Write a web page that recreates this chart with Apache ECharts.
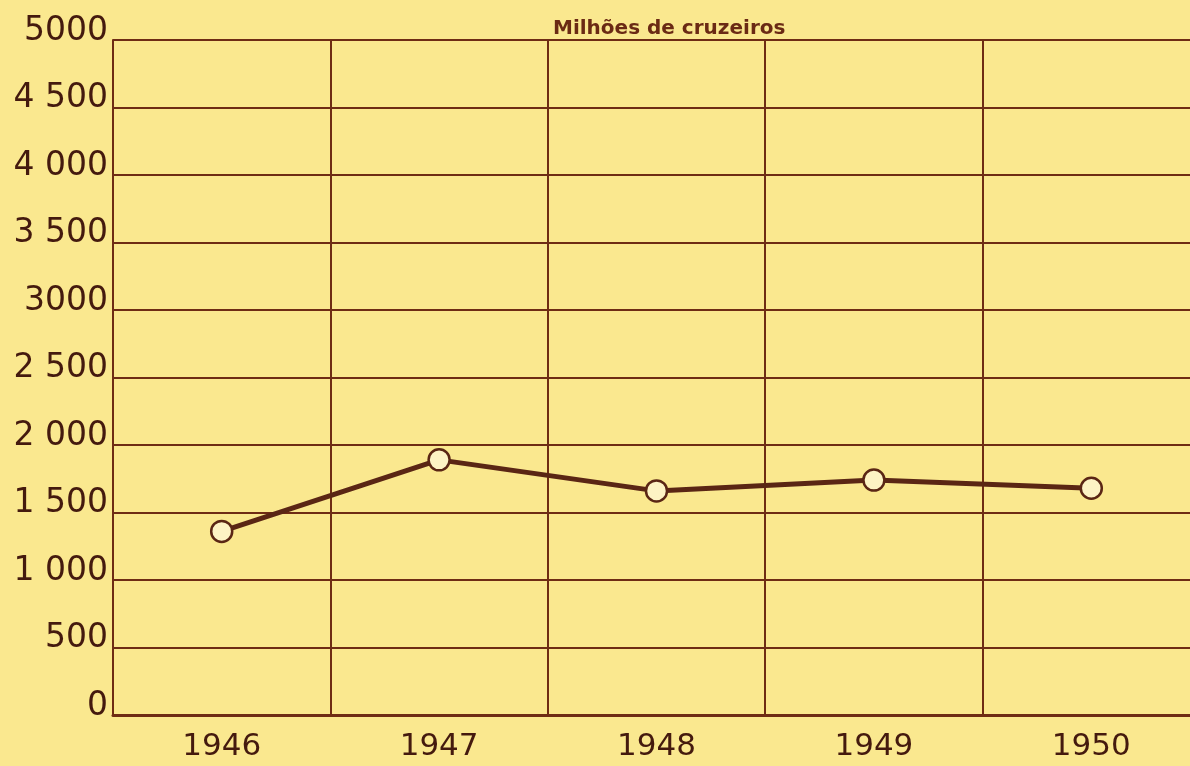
<!DOCTYPE html>
<html>
<head>
<meta charset="utf-8">
<script src="https://cdn.jsdelivr.net/npm/echarts@6/dist/echarts.min.js"></script>
<style>
html,body{margin:0;padding:0;background:#fae88f;}
#chart{width:1190px;height:766px;}
</style>
</head>
<body>
<div id="chart"></div>
<script>
const years = ['1946', '1947', '1948', '1949', '1950'];
const values = [1360, 1890, 1660, 1740, 1680];
const yTickLabels = ['0', '500', '1 000', '1 500', '2 000', '2 500', '3000', '3 500', '4 000', '4 500', '5000'];
const unitLabel = 'Milhões de cruzeiros';

const ink = '#441a0e';
const gridInk = '#6e2c14';
const chart = echarts.init(document.getElementById('chart'));
chart.setOption({
  backgroundColor: '#fae88f',
  animation: false,
  title: {
    text: unitLabel,
    left: 548, top: 14,
    textStyle: {fontFamily: 'DejaVu Sans', fontSize: 20, fontWeight: 'bold', color: '#6a2a14'}
  },
  grid: {left: 113, top: 40, width: 1087, height: 675, containLabel: false, outerBoundsMode: 'none'},
  xAxis: {
    type: 'category',
    data: years,
    boundaryGap: true,
    axisLine: {show: true, lineStyle: {color: gridInk, width: 3}},
    axisTick: {show: false},
    splitLine: {show: true, interval: 0, lineStyle: {color: gridInk, width: 2}},
    axisLabel: {interval: 0, margin: 16, fontFamily: 'DejaVu Sans', fontSize: 31, color: ink}
  },
  yAxis: {
    type: 'value',
    min: 0, max: 5000, interval: 500,
    axisLine: {show: true, lineStyle: {color: gridInk, width: 2}},
    axisTick: {show: false},
    splitLine: {show: true, lineStyle: {color: gridInk, width: 2}},
    axisLabel: {
      margin: 5,
      verticalAlign: 'bottom',
      lineHeight: 18,
      fontFamily: 'DejaVu Sans', fontSize: 33, color: ink,
      formatter: v => yTickLabels[Math.round(v / 500)]
    }
  },
  series: [{
    type: 'line',
    data: values,
    symbol: 'circle',
    symbolSize: 21,
    lineStyle: {color: '#5a2614', width: 5},
    itemStyle: {color: '#fdf3c4', borderColor: '#5a2614', borderWidth: 2.5},
    z: 5
  }]
});
</script>
</body>
</html>
